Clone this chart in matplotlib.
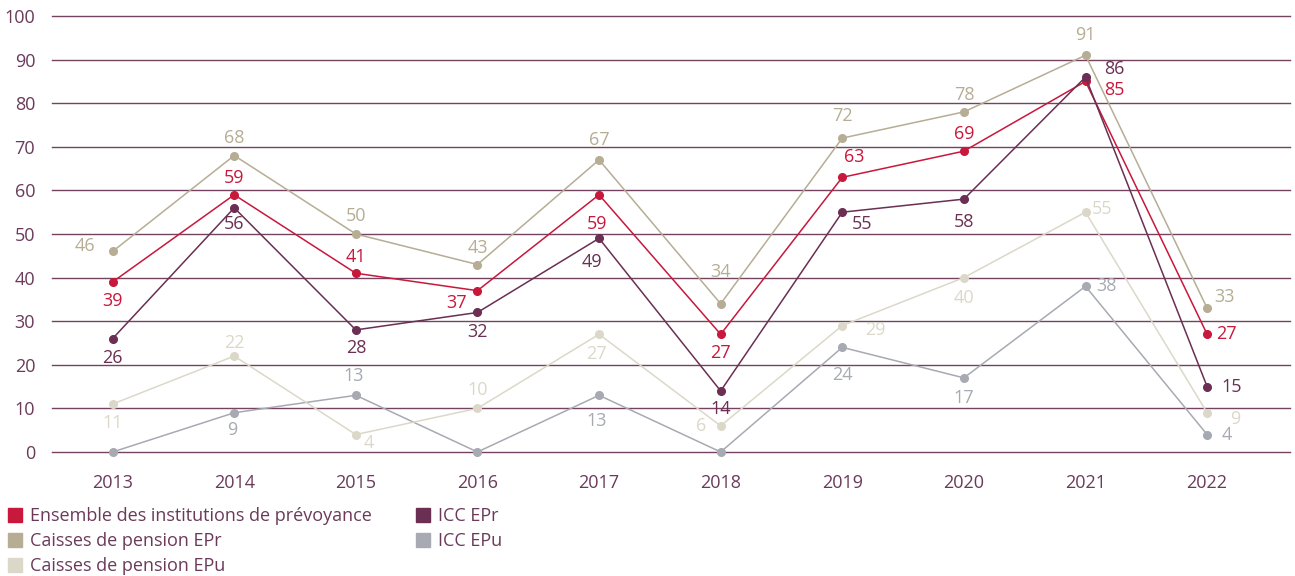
import numpy as np
import matplotlib
matplotlib.use("Agg")
import matplotlib.pyplot as plt
from matplotlib.lines import Line2D

plt.rcParams['font.family'] = ['Open Sans', 'DejaVu Sans']

years = [2013, 2014, 2015, 2016, 2017, 2018, 2019, 2020, 2021, 2022]

ensemble = [39, 59, 41, 37, 59, 27, 63, 69, 85, 27]
caisses_epr = [46, 68, 50, 43, 67, 34, 72, 78, 91, 33]
caisses_epu = [11, 22, 4, 10, 27, 6, 29, 40, 55, 9]
icc_epr = [26, 56, 28, 32, 49, 14, 55, 58, 86, 15]
icc_epu = [0, 9, 13, 0, 13, 0, 24, 17, 38, 4]

names = ["Ensemble des institutions de prévoyance", "Caisses de pension EPr",
         "Caisses de pension EPu", "ICC EPr", "ICC EPu"]

txt = '#6b3a5a'
grid_col = '#74435f'
colors = {
    "Ensemble des institutions de prévoyance": '#c8183c',
    "Caisses de pension EPr": '#b6ad94',
    "Caisses de pension EPu": '#dcd8c9',
    "ICC EPr": '#6a2f52',
    "ICC EPu": '#a7aab2',
}

# label offsets in pixels (dx, dy), None = no label
offsets = {
    "Ensemble des institutions de prévoyance":
        [(0, -19), (0, 17), (0, 16), (-21, -12), (-2, -29), (0, -19), (12, 20), (0, 17), (29, -9), (19, 0)],
    "Caisses de pension EPr":
        [(-28, 5), (0, 18), (0, 18), (0, 17), (0, 20), (0, 32), (0, 22), (0, 17), (0, 20), (17, 11)],
    "Caisses de pension EPu":
        [(0, -19), (0, 13), (13, -8), (0, 18), (-3, -20), (-20, 0), (33, -4), (0, -20), (17, 3), (28, -6)],
    "ICC EPr":
        [(0, -19), (0, -16), (0, -18), (0, -20), (-7, -24), (0, -18), (20, -12), (0, -23), (29, 8), (25, 0)],
    "ICC EPu":
        [None, (-2, -17), (-2, 19), None, (-2, -26), None, (0, -28), (0, -20), (21, 0), (20, 0)],
}

series = {
    "Ensemble des institutions de prévoyance": ensemble,
    "Caisses de pension EPr": caisses_epr,
    "Caisses de pension EPu": caisses_epu,
    "ICC EPr": icc_epr,
    "ICC EPu": icc_epu,
}

fig = plt.figure(figsize=(12.95, 5.76), dpi=100)
ax = fig.add_axes([0.040, 0.2153, 0.956, 0.7569])

draw_order = ["ICC EPu", "Caisses de pension EPu", "Caisses de pension EPr",
              "Ensemble des institutions de prévoyance", "ICC EPr"]
for z, name in enumerate(draw_order):
    vals = series[name]
    c = colors[name]
    ax.plot(years, vals, color=c, lw=1.1, marker='o', ms=5.5, mec=c, mfc=c,
            zorder=3 + z, clip_on=False)
    for x, v, off in zip(years, vals, offsets[name]):
        if off is None:
            continue
        ax.annotate(str(v), (x, v), xytext=off, textcoords='offset pixels',
                    ha='center', va='center', fontsize=13, color=c, zorder=10)

ax.set_xlim(2012.5, 2022.68)
ax.set_ylim(0, 100)
ax.set_yticks(range(0, 101, 10))
ax.set_xticks(years)
ax.yaxis.grid(True, color=grid_col, lw=1)
for gl in ax.get_ygridlines():
    gl.set_clip_on(False)
ax.set_axisbelow(True)
for s in ax.spines.values():
    s.set_visible(False)
ax.tick_params(axis='both', length=0, labelsize=13, labelcolor=txt)
ax.tick_params(axis='x', pad=16)
ax.tick_params(axis='y', pad=12)

handles = [Line2D([], [], ls='none', marker='s', ms=10, mfc=colors[n], mec=colors[n])
           for n in names]
fig.legend(handles, names, ncol=2, loc='upper left', bbox_to_anchor=(-0.001, 0.135),
           frameon=False, fontsize=13, labelcolor=txt, handlelength=0.8,
           handletextpad=0.45, labelspacing=0.38, columnspacing=2.4, borderpad=0)

fig.savefig('out.png', dpi=100)
